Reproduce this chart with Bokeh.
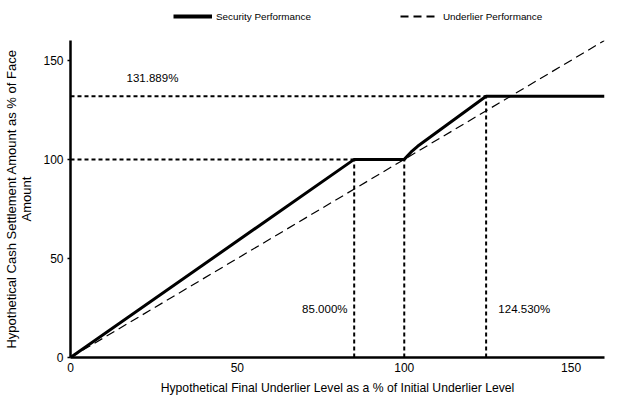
from bokeh.plotting import figure
from bokeh.layouts import column
from bokeh.models import Range1d, Legend, LegendItem, Label, FixedTicker
from bokeh.embed import file_html
from bokeh.resources import INLINE

# Data
sec_x = [0, 85, 100, 102, 104, 124.53, 160]
sec_y = [0, 100, 100, 103.6, 106.6, 131.889, 131.889]
und_x = [0, 160]
und_y = [0, 160]
ref_h_y = [131.889, 100]
ref_h_x_end = [124.53, 85]
ref_v_x = [85, 100, 124.53]
ref_v_y_end = [100, 100, 131.889]
ann_text = ["131.889%", "85.000%", "124.530%"]
ann_x = [16.8, 83, 128.2]
ann_y = [141, 24.5, 24.5]
ticks = [0, 50, 100, 150]
legend_labels = ["Security Performance", "Underlier Performance"]

FONT = "Liberation Sans"
SEC_STYLE = dict(line_color="black", line_width=3)
UND_STYLE = dict(line_color="black", line_width=1.2, line_dash="9 5")

# ---- header with legend ----
head = figure(width=623, height=40, output_backend="svg", toolbar_location=None,
              x_range=Range1d(0, 160), y_range=Range1d(1000, 1040),
              x_axis_type=None, y_axis_type=None,
              min_border=0, min_border_left=0, min_border_right=0,
              min_border_top=0, min_border_bottom=0)
head.outline_line_color = None
head.grid.visible = False
h_sec = head.line(sec_x, sec_y, line_color="black", line_width=4)
h_und = head.line(und_x, und_y, line_color="black", line_width=2, line_dash="8 5")
legend = Legend(items=[LegendItem(label=legend_labels[0], renderers=[h_sec]),
                       LegendItem(label=legend_labels[1], renderers=[h_und])],
                orientation="horizontal", location=(103, 18),
                background_fill_alpha=0, border_line_color=None,
                label_text_font=FONT, label_text_font_size="9.9px",
                label_text_color="black",
                glyph_width=39, label_standoff=4, spacing=89, padding=0, margin=0,
                glyph_height=12, label_height=12)
head.add_layout(legend, "center")

# ---- main chart ----
p = figure(width=623, height=370, output_backend="svg", toolbar_location=None,
           x_range=Range1d(0, 160), y_range=Range1d(0, 160),
           min_border_left=69, min_border_right=19, min_border_top=0, min_border_bottom=53)
p.outline_line_color = None
p.grid.visible = False

for ax in (p.xaxis, p.yaxis):
    ax.ticker = FixedTicker(ticks=ticks)
    ax.axis_line_width = 2.5
    ax.axis_line_color = "black"
    ax.major_tick_line_color = "black"
    ax.major_tick_line_width = 1.5
    ax.major_tick_in = 0
    ax.minor_tick_line_color = None
    ax.major_label_text_font = FONT
    ax.major_label_text_font_size = "12px"
    ax.major_label_text_color = "black"
    ax.axis_label_text_font = FONT
    ax.axis_label_text_font_style = "normal"
    ax.axis_label_text_color = "black"

p.xaxis.axis_label_text_font_size = "12.2px"
p.yaxis.axis_label_text_font_size = "13px"
p.yaxis.axis_label_text_line_height = 1.05
p.xaxis.major_tick_out = 0
p.yaxis.major_tick_out = 3
p.xaxis.major_label_standoff = 5
p.yaxis.major_label_standoff = 4
p.xaxis.axis_label = "Hypothetical Final Underlier Level as a % of Initial Underlier Level"
p.yaxis.axis_label = "Hypothetical Cash Settlement Amount as % of Face\nAmount"
p.xaxis.axis_label_standoff = 6
p.yaxis.axis_label_standoff = 6

for yv, xe in zip(ref_h_y, ref_h_x_end):
    p.line([0, xe], [yv, yv], line_color="black", line_width=2, line_dash="4 3")
for xv, ye in zip(ref_v_x, ref_v_y_end):
    p.line([xv, xv], [0, ye], line_color="black", line_width=2, line_dash="4 3")

p.line(und_x, und_y, **UND_STYLE)
p.line(sec_x, sec_y, **SEC_STYLE)

for t, xv, yv in zip(ann_text, ann_x, ann_y):
    align = "right" if t == "85.000%" else "left"
    p.add_layout(Label(x=xv, y=yv, text=t, text_font=FONT, text_font_size="11.5px",
                       text_color="black", text_align=align, text_baseline="middle"))

layout = column(head, p, spacing=0)
open("out.html", "w").write(file_html(layout, INLINE))
